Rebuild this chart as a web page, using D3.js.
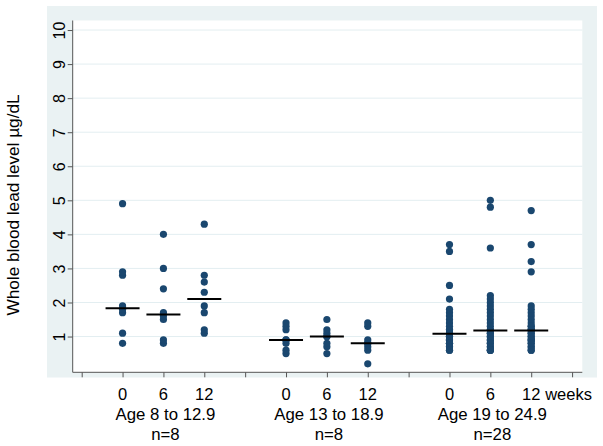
<!DOCTYPE html>
<html>
<head>
<meta charset="utf-8">
<script src="https://cdn.jsdelivr.net/npm/d3@7"></script>
<style>
  html, body { margin: 0; padding: 0; background: #ffffff; }
  svg { display: block; }
  text { font-family: "Liberation Sans", Arial, Helvetica, sans-serif; fill: #000; }
</style>
</head>
<body>
<svg id="chart" width="603" height="446"></svg>
<script>
// ---- data ----
const groupLabels = ["Age 8 to 12.9", "Age 13 to 18.9", "Age 19 to 24.9"];
const groupN = ["n=8", "n=8", "n=28"];
const weekLabels = ["0", "6", "12"];
const yTicks = [1, 2, 3, 4, 5, 6, 7, 8, 9, 10];

const age8_w0  = [0.8, 1.1, 1.7, 1.8, 1.9, 2.8, 2.9, 4.9];
const age8_w6  = [0.8, 0.9, 1.5, 1.6, 1.7, 2.4, 3.0, 4.0];
const age8_w12 = [1.1, 1.2, 1.7, 1.9, 2.3, 2.6, 2.8, 4.3];

const age13_w0  = [0.5, 0.6, 0.8, 0.9, 0.9, 1.2, 1.3, 1.4];
const age13_w6  = [0.5, 0.7, 0.8, 1.0, 1.0, 1.1, 1.2, 1.5];
const age13_w12 = [0.2, 0.6, 0.7, 0.8, 0.8, 0.9, 1.3, 1.4];

const age19_w0  = [3.7, 3.5, 2.5, 2.1, 1.8, 1.7, 1.6, 1.5, 1.4, 1.3, 1.2, 1.2, 1.1, 1.1,
                   1.1, 1.0, 1.0, 1.0, 0.9, 0.9, 0.9, 0.8, 0.8, 0.8, 0.7, 0.7, 0.6, 0.6];
const age19_w6  = [5.0, 4.8, 3.6, 2.2, 2.1, 2.0, 1.9, 1.8, 1.7, 1.6, 1.5, 1.4, 1.3, 1.2,
                   1.2, 1.1, 1.1, 1.0, 1.0, 0.9, 0.9, 0.8, 0.8, 0.7, 0.7, 0.6, 0.6, 0.6];
const age19_w12 = [4.7, 3.7, 3.2, 2.9, 1.9, 1.8, 1.7, 1.6, 1.5, 1.4, 1.3, 1.3, 1.2, 1.2,
                   1.2, 1.1, 1.1, 1.0, 1.0, 0.9, 0.9, 0.9, 0.8, 0.8, 0.7, 0.7, 0.6, 0.6];

// median bars as drawn in the reference
const medians = [1.83, 1.65, 2.1, 0.9, 1.0, 0.8, 1.08, 1.18, 1.18];

const series = [age8_w0, age8_w6, age8_w12, age13_w0, age13_w6, age13_w12, age19_w0, age19_w6, age19_w12];

// ---- layout ----
const svg = d3.select("#chart");
const plotL = 72.7, plotR = 582.3, plotT = 20.5, plotB = 372.3;

const x = d3.scaleLinear().domain([-0.22, 12.25]).range([plotL, plotR]);
const y = d3.scaleLinear().domain([-0.05, 10.28]).range([plotB, plotT]);

// position index of each column: group g, week w -> 4g + 1 + w
const colPos = series.map((_, i) => 4 * Math.floor(i / 3) + 1 + (i % 3));

// graph region (light) and plot region (white)
svg.append("rect").attr("x", 47).attr("y", 6).attr("width", 550).attr("height", 371.5)
  .attr("fill", "#eaf2f3");
svg.append("rect").attr("x", plotL).attr("y", plotT).attr("width", plotR - plotL).attr("height", plotB - plotT)
  .attr("fill", "#ffffff");

// gridlines
svg.append("g").selectAll("line").data(yTicks).join("line")
  .attr("x1", plotL).attr("x2", plotR)
  .attr("y1", d => y(d)).attr("y2", d => y(d))
  .attr("stroke", "#e3eef1").attr("stroke-width", 1);

// y axis
const yAxis = d3.axisLeft(y).tickValues(yTicks).tickSize(5).tickSizeOuter(0).tickFormat(d3.format("d"));
const gy = svg.append("g").attr("transform", `translate(${plotL},0)`).call(yAxis);
gy.select(".domain").attr("stroke", "#555").attr("d", `M0,${plotT}V${plotB}`);
gy.selectAll(".tick line").attr("stroke", "#555");
gy.selectAll(".tick text")
  .attr("font-size", 16).attr("font-family", "Liberation Sans, Arial, sans-serif").attr("fill", "#000")
  .attr("transform", "rotate(-90)")
  .attr("x", 0).attr("y", -7.5).attr("dy", 0)
  .attr("text-anchor", "middle");

// x axis (ticks at 0..12, labels at week positions)
const xTicks = d3.range(0, 13);
const xAxis = d3.axisBottom(x).tickValues(xTicks).tickSize(5).tickSizeOuter(0).tickFormat("");
const gx = svg.append("g").attr("transform", `translate(0,${plotB})`).call(xAxis);
gx.select(".domain").attr("stroke", "#555").attr("d", `M${plotL},0H${plotR}`);
gx.selectAll(".tick line").attr("stroke", "#555");

// week tick labels
const weekLabelData = colPos.map((p, i) => ({ p, t: weekLabels[i % 3] }));
svg.append("g").selectAll("text").data(weekLabelData).join("text")
  .attr("x", d => x(d.p)).attr("y", 399.5)
  .attr("text-anchor", "middle").attr("font-size", 16.5)
  .text(d => d.t);
svg.append("text").attr("x", x(11) + 14).attr("y", 399.5)
  .attr("font-size", 16.5).text("weeks");

// group labels
svg.append("g").selectAll("text").data(groupLabels).join("text")
  .attr("x", (d, i) => x(4 * i + 2) + 2).attr("y", 419.5)
  .attr("text-anchor", "middle").attr("font-size", 16.8)
  .text(d => d);
svg.append("g").selectAll("text").data(groupN).join("text")
  .attr("x", (d, i) => x(4 * i + 2) + 2).attr("y", 440)
  .attr("text-anchor", "middle").attr("font-size", 16.8)
  .text(d => d);

// y title
svg.append("text")
  .attr("transform", `translate(19,205) rotate(-90)`)
  .attr("text-anchor", "middle").attr("font-size", 17.2)
  .text("Whole blood lead level µg/dL");

// points
const pts = [];
series.forEach((s, i) => s.forEach(v => pts.push({ p: colPos[i], v })));
svg.append("g").selectAll("circle").data(pts).join("circle")
  .attr("cx", d => x(d.p)).attr("cy", d => y(d.v)).attr("r", 3.6)
  .attr("fill", "#1a476f");

// median bars
svg.append("g").selectAll("line").data(medians).join("line")
  .attr("x1", (d, i) => x(colPos[i]) - 17).attr("x2", (d, i) => x(colPos[i]) + 17)
  .attr("y1", d => y(d)).attr("y2", d => y(d))
  .attr("stroke", "#000").attr("stroke-width", 2);
</script>
</body>
</html>
